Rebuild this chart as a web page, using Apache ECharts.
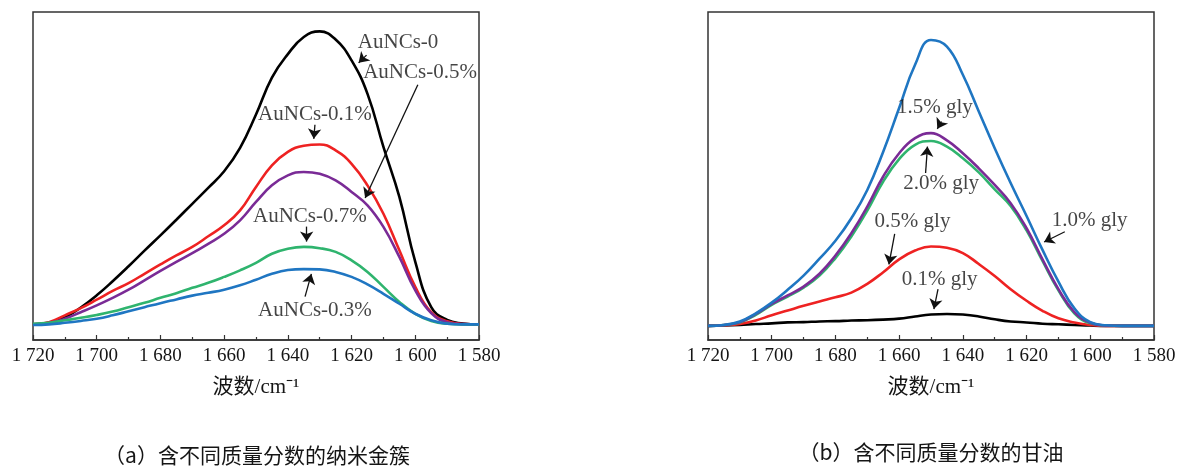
<!DOCTYPE html>
<html>
<head>
<meta charset="utf-8">
<script src="https://cdn.jsdelivr.net/npm/echarts@6/dist/echarts.min.js"></script>
<style>
  html, body { margin: 0; padding: 0; background: #ffffff; }
  #chart { width: 1187px; height: 468px; }
</style>
</head>
<body>
<div id="chart"></div>
<script>
// Wavenumber sampling (cm^-1), shared by every spectrum
const wavenumbers = [1720, 1715, 1710, 1705, 1700, 1695, 1690, 1685, 1680, 1675,
                     1670, 1665, 1660, 1655, 1650, 1645, 1640, 1635, 1630, 1625,
                     1620, 1615, 1610, 1605, 1600, 1595, 1590, 1585, 1580];

// X-axis range and tick step
const X_MIN = 1580, X_MAX = 1720, X_STEP = 20;

// (a) amide I band, films with different AuNCs contents (a.u.)
const auncs0   = [0, 0.005, 0.022, 0.054, 0.093, 0.138, 0.186, 0.236, 0.285, 0.335,
                  0.386, 0.437, 0.490, 0.565, 0.672, 0.790, 0.865, 0.920, 0.938, 0.912,
                  0.845, 0.738, 0.568, 0.408, 0.200, 0.055, 0.014, 0.003, 0];
const auncs01  = [0, 0.007, 0.029, 0.052, 0.079, 0.107, 0.132, 0.162, 0.192, 0.221,
                  0.248, 0.282, 0.317, 0.365, 0.440, 0.509, 0.552, 0.572, 0.576, 0.557,
                  0.514, 0.445, 0.354, 0.237, 0.120, 0.039, 0.010, 0.001, 0];
const auncs05  = [0, 0.004, 0.018, 0.039, 0.061, 0.085, 0.111, 0.141, 0.171, 0.200,
                  0.228, 0.258, 0.290, 0.333, 0.392, 0.445, 0.477, 0.488, 0.482, 0.461,
                  0.424, 0.381, 0.312, 0.216, 0.109, 0.036, 0.007, 0.001, 0];
const auncs07  = [0.002, 0.005, 0.013, 0.021, 0.030, 0.041, 0.055, 0.069, 0.085, 0.100,
                  0.117, 0.133, 0.152, 0.173, 0.197, 0.226, 0.242, 0.248, 0.244, 0.232,
                  0.205, 0.168, 0.120, 0.072, 0.034, 0.011, 0.002, 0, 0];
const auncs03  = [-0.002, 0, 0.005, 0.011, 0.018, 0.029, 0.042, 0.055, 0.068, 0.080,
                  0.092, 0.101, 0.111, 0.125, 0.143, 0.162, 0.174, 0.177, 0.176, 0.168,
                  0.152, 0.128, 0.098, 0.066, 0.034, 0.013, 0.002, 0, 0];

// (b) amide I band, films with different glycerol contents (a.u.)
const gly01 = [0, 0.001, 0.003, 0.006, 0.008, 0.011, 0.012, 0.014, 0.015, 0.017,
               0.018, 0.020, 0.023, 0.030, 0.036, 0.038, 0.036, 0.030, 0.021, 0.014,
               0.011, 0.007, 0.005, 0.003, 0.001, 0, 0, 0, 0];
const gly05 = [0, 0.002, 0.006, 0.017, 0.034, 0.049, 0.064, 0.078, 0.091, 0.106,
               0.134, 0.171, 0.212, 0.240, 0.253, 0.249, 0.232, 0.197, 0.159, 0.117,
               0.080, 0.048, 0.024, 0.011, 0.003, 0, 0, 0, 0];
const gly20 = [0, 0.003, 0.011, 0.035, 0.067, 0.093, 0.122, 0.160, 0.216, 0.285,
               0.367, 0.460, 0.531, 0.577, 0.589, 0.571, 0.534, 0.489, 0.435, 0.382,
               0.304, 0.207, 0.113, 0.040, 0.008, 0.001, 0, 0, 0];
const gly15 = [0, 0.003, 0.012, 0.038, 0.070, 0.097, 0.125, 0.166, 0.224, 0.295,
               0.380, 0.476, 0.550, 0.598, 0.614, 0.591, 0.550, 0.502, 0.449, 0.391,
               0.311, 0.212, 0.117, 0.044, 0.010, 0.001, 0, 0, 0];
const gly10 = [0, 0.003, 0.014, 0.040, 0.074, 0.115, 0.160, 0.214, 0.271, 0.343,
               0.433, 0.555, 0.694, 0.832, 0.911, 0.890, 0.800, 0.683, 0.566, 0.455,
               0.350, 0.242, 0.141, 0.056, 0.012, 0.002, 0, 0, 0];

// Callouts: label position, arrow tail, arrow tip (wavenumber, intensity)
const notesA = [
  { text: 'AuNCs-0',    at: [1605.4, 0.901], from: [1615.3, 0.862], to: [1618.9, 0.826] },
  { text: 'AuNCs-0.5%', at: [1598.5, 0.805], from: [1599.2, 0.767], to: [1616.4, 0.390] },
  { text: 'AuNCs-0.1%', at: [1631.5, 0.673], from: [1631.5, 0.639], to: [1632.0, 0.578] },
  { text: 'AuNCs-0.7%', at: [1633.1, 0.344], from: [1634.1, 0.313], to: [1634.1, 0.249] },
  { text: 'AuNCs-0.3%', at: [1631.5, 0.043], from: [1634.6, 0.089], to: [1632.2, 0.177] }
];
const notesB = [
  { text: '1.5% gly', at: [1648.8, 0.697], from: [1646.7, 0.651], to: [1648.8, 0.614] },
  { text: '2.0% gly', at: [1646.8, 0.455], from: [1651.7, 0.487], to: [1651.0, 0.587] },
  { text: '1.0% gly', at: [1600.2, 0.337], from: [1608.0, 0.300], to: [1615.9, 0.260] },
  { text: '0.5% gly', at: [1655.8, 0.331], from: [1661.4, 0.293], to: [1663.5, 0.180] },
  { text: '0.1% gly', at: [1647.3, 0.149], from: [1647.8, 0.117], to: [1649.4, 0.038] }
];

const captionA = '（a）含不同质量分数的纳米金簇';
const captionB = '（b）含不同质量分数的甘油';
const axisTitle = '波数/cm⁻¹';

const SERIF = '"Liberation Serif", "Times New Roman", "Noto Sans CJK SC", serif';
const CJK = '"Noto Sans CJK SC", sans-serif';
const INK = '#151515';
const ARROW_SIZE = 10;

const COLORS = {
  black: '#000000', red: '#ee2222', purple: '#7a2b96', green: '#2fb46e', blue: '#1f76c2'
};

function pairs(vals) {
  return wavenumbers.map((w, i) => [w, vals[i]]);
}

// "1720" -> "1 720"
function thinThousands(v) {
  const s = String(v);
  return s.length > 3 ? s.slice(0, s.length - 3) + ' ' + s.slice(-3) : s;
}

function xAxisFor(gridIndex) {
  return {
    type: 'value', gridIndex, inverse: true,
    min: X_MIN, max: X_MAX, interval: X_STEP,
    axisLine: { show: true, onZero: false, lineStyle: { color: '#333', width: 1.5 } },
    axisTick: { show: true, inside: true, length: 5, lineStyle: { color: '#333', width: 1.2 } },
    minorTick: { show: true, splitNumber: 2, length: 3, lineStyle: { color: '#333', width: 1.2 } },
    splitLine: { show: false },
    minorSplitLine: { show: false },
    axisLabel: {
      show: true, margin: 7, color: INK, fontFamily: SERIF, fontSize: 19,
      showMinLabel: true, showMaxLabel: true, hideOverlap: false,
      formatter: thinThousands
    },
    name: axisTitle, nameLocation: 'middle', nameGap: 37,
    nameTextStyle: { color: INK, fontFamily: SERIF, fontSize: 21 }
  };
}

function yAxisFor(gridIndex, min) {
  return { type: 'value', gridIndex, min, max: 1.0, show: false };
}

function spectrum(name, vals, color, idx) {
  return {
    type: 'line', name, xAxisIndex: idx, yAxisIndex: idx,
    data: pairs(vals), smooth: 0.45, showSymbol: false, symbol: 'none',
    lineStyle: { color, width: 2.6 }, itemStyle: { color },
    silent: true, z: 3
  };
}

function arrowData(notes) {
  return notes.map(n => [{ coord: n.from }, { coord: n.to }]);
}

function callouts(notes, idx, lines) {
  return {
    type: 'scatter', xAxisIndex: idx, yAxisIndex: idx,
    data: notes.map(n => ({ value: n.at, name: n.text })),
    symbolSize: 1, itemStyle: { color: 'rgba(0,0,0,0)' },
    silent: true, z: 6,
    label: {
      show: true, position: 'inside', formatter: '{b}',
      color: INK, fontFamily: SERIF, fontSize: 21
    },
    markLine: {
      silent: true, animation: false,
      symbol: ['none', 'arrow'], symbolSize: ARROW_SIZE,
      label: { show: false },
      lineStyle: { color: '#111', width: 1.3, type: 'solid' },
      emphasis: { disabled: true },
      data: lines
    }
  };
}

const chart = echarts.init(document.getElementById('chart'), null, { renderer: 'canvas' });

function buildOption(linesA, linesB) {
  return {
    backgroundColor: '#ffffff',
    animation: false,
    grid: [
      { left: 33,  top: 12, width: 446, height: 328, show: true, borderColor: '#333', borderWidth: 1.5, backgroundColor: 'transparent' },
      { left: 708, top: 12, width: 446, height: 328, show: true, borderColor: '#333', borderWidth: 1.5, backgroundColor: 'transparent' }
    ],
    xAxis: [xAxisFor(0), xAxisFor(1)],
    yAxis: [yAxisFor(0, -0.05), yAxisFor(1, -0.045)],
    series: [
      spectrum('AuNCs-0',    auncs0,  COLORS.black,  0),
      spectrum('AuNCs-0.1%', auncs01, COLORS.red,    0),
      spectrum('AuNCs-0.5%', auncs05, COLORS.purple, 0),
      spectrum('AuNCs-0.7%', auncs07, COLORS.green,  0),
      spectrum('AuNCs-0.3%', auncs03, COLORS.blue,   0),
      callouts(notesA, 0, linesA),

      spectrum('0.1% gly', gly01, COLORS.black,  1),
      spectrum('0.5% gly', gly05, COLORS.red,    1),
      spectrum('2.0% gly', gly20, COLORS.green,  1),
      spectrum('1.5% gly', gly15, COLORS.purple, 1),
      spectrum('1.0% gly', gly10, COLORS.blue,   1),
      callouts(notesB, 1, linesB)
    ],
    graphic: [
      { type: 'text', x: 257, y: 455, silent: true,
        style: { text: captionA, align: 'center', verticalAlign: 'middle', fill: INK, font: '21px ' + CJK } },
      { type: 'text', x: 931, y: 452, silent: true,
        style: { text: captionB, align: 'center', verticalAlign: 'middle', fill: INK, font: '21px ' + CJK } }
    ]
  };
}

chart.setOption(buildOption(arrowData(notesA), arrowData(notesB)));

// The arrow symbol is centred on the line end, so pull each line end back
// by half the symbol size to put the tip exactly on the target point.
function tipAligned(notes, gridIndex) {
  return notes.map(n => {
    const p1 = chart.convertToPixel({ gridIndex }, n.from);
    const p2 = chart.convertToPixel({ gridIndex }, n.to);
    const dx = p2[0] - p1[0], dy = p2[1] - p1[1];
    const len = Math.hypot(dx, dy) || 1;
    const back = [p2[0] - dx / len * ARROW_SIZE / 2, p2[1] - dy / len * ARROW_SIZE / 2];
    return [{ coord: n.from }, { coord: chart.convertFromPixel({ gridIndex }, back) }];
  });
}

chart.setOption(buildOption(tipAligned(notesA, 0), tipAligned(notesB, 1)));
</script>
</body>
</html>
